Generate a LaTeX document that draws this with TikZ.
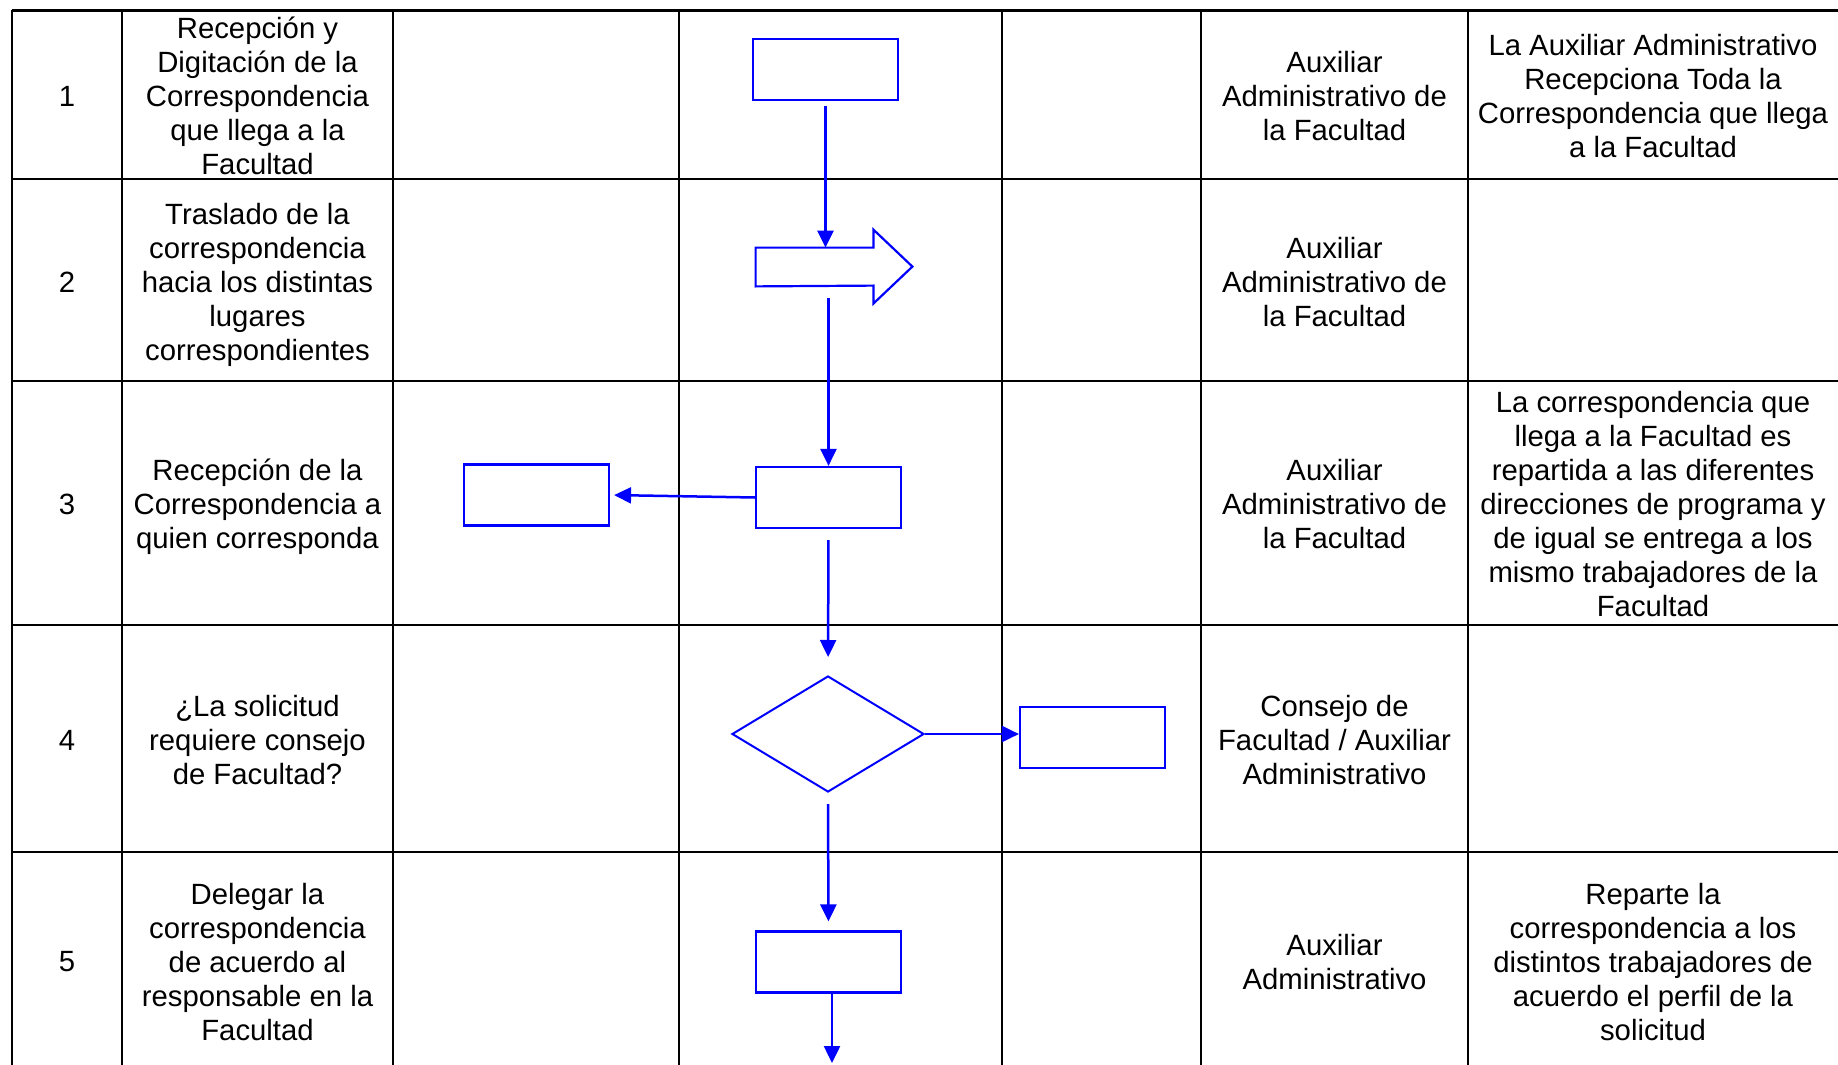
\documentclass[tikz,border=0pt]{standalone}
\usepackage{fontspec}
\setmainfont{Liberation Sans}
\usetikzlibrary{arrows.meta,shapes.geometric}
\definecolor{flowblue}{RGB}{0,0,255}
\begin{document}
\begin{tikzpicture}[x=0.5pt,y=-0.5pt,
  vgrid/.style={line width=1.0pt,black},
  hgrid/.style={line width=1.4pt,black},
  cell/.style={align=center,inner sep=0pt,font=\fontsize{14.65pt}{17pt}\selectfont},
  proc/.style={draw=flowblue,line width=1.1pt,minimum width=72.5pt,minimum height=30.5pt,inner sep=0pt},
  decision/.style={diamond,draw=flowblue,line width=1pt,minimum width=96pt,minimum height=58pt,inner sep=0pt},
  flow/.style={draw=flowblue,line width=1.25pt,-{Triangle[length=8.5pt,width=8pt]}},
]
\useasboundingbox (0,0) rectangle (1838,1065);

% table rules
\foreach \y in {10.5,179,381,625,852}
  \draw[hgrid] (11.7,\y) -- (1838,\y);
\foreach \x in {11.7,122,393,679,1002,1201,1468}
  \draw[vgrid] (\x,10.5) -- (\x,1070);

% step numbers
\node[cell] (num1) at (67,96)  {1};
\node[cell] (num2) at (67,282) {2};
\node[cell] (num3) at (67,504) {3};
\node[cell] (num4) at (67,740) {4};
\node[cell] (num5) at (67,962) {5};

% activities
\node[cell] (act1) at (257.5,96)  {Recepción y\\Digitación de la\\Correspondencia\\que llega a la\\Facultad};
\node[cell] (act2) at (257.5,285) {Traslado de la\\correspondencia\\hacia los distintas\\lugares\\correspondientes};
\node[cell] (act3) at (257.5,507) {Recepción de la\\Correspondencia a\\quien corresponda};
\node[cell] (act4) at (257.5,740) {¿La solicitud\\requiere consejo\\de Facultad?};
\node[cell] (act5) at (257.5,962) {Delegar la\\correspondencia\\de acuerdo al\\responsable en la\\Facultad};

% responsibles
\node[cell] (resp1) at (1334.5,96)  {Auxiliar\\Administrativo de\\la Facultad};
\node[cell] (resp2) at (1334.5,282) {Auxiliar\\Administrativo de\\la Facultad};
\node[cell] (resp3) at (1334.5,504) {Auxiliar\\Administrativo de\\la Facultad};
\node[cell] (resp4) at (1334.5,740) {Consejo de\\Facultad / Auxiliar\\Administrativo};
\node[cell] (resp5) at (1334.5,962) {Auxiliar\\Administrativo};

% observations
\node[cell] (obs1) at (1653,96)  {La Auxiliar Administrativo\\Recepciona Toda la\\Correspondencia que llega\\a la Facultad};
\node[cell] (obs3) at (1653,504) {La correspondencia que\\llega a la Facultad es\\repartida a las diferentes\\direcciones de programa y\\de igual se entrega a los\\mismo trabajadores de la\\Facultad};
\node[cell] (obs5) at (1653,962) {Reparte la\\correspondencia a los\\distintos trabajadores de\\acuerdo el perfil de la\\solicitud};

% flow symbols
\node[proc] (recibir) at (825.5,69.5) {};
\node[inner sep=0pt,minimum width=58.5pt,minimum height=19pt] (traslado) at (814.5,267) {};
\draw[flowblue,line width=1.1pt,line join=miter]
  (traslado.north west) -- (traslado.north east) -- ++(0,-18) -- ++(39,37)
  -- ++(-39,37) -- ++(0,-18) -- (traslado.south west) -- cycle;
\node[proc] (recepcion) at (828.5,497.5) {};
\node[proc] (destino) at (536.5,495) {};
\node[decision] (consulta) at (828,734) {};
\node[proc] (consejo) at (1092.5,737.5) {};
\node[proc] (delegar) at (828.5,962) {};
\coordinate (salida) at (832,1063);

% connectors
\draw[flow,shorten <=2.5pt] (recibir.south) -- (recibir.south |- traslado.north);
\draw[flow,shorten <=6pt] (traslado.south -| recepcion.north) -- (recepcion.north);
\draw[flow,shorten >=2pt] (recepcion.west) -- (destino.east);
\draw[flow,shorten <=5.5pt,shorten >=9pt] (recepcion.south) -- (consulta.north);
\draw[flow] (consulta.east) -- (consulta.east -| consejo.west);
\draw[flow,shorten <=5.5pt,shorten >=4.5pt] (consulta.south) -- (delegar.north);
\draw[flow] (delegar.south -| salida) -- (salida);
\end{tikzpicture}
\end{document}
